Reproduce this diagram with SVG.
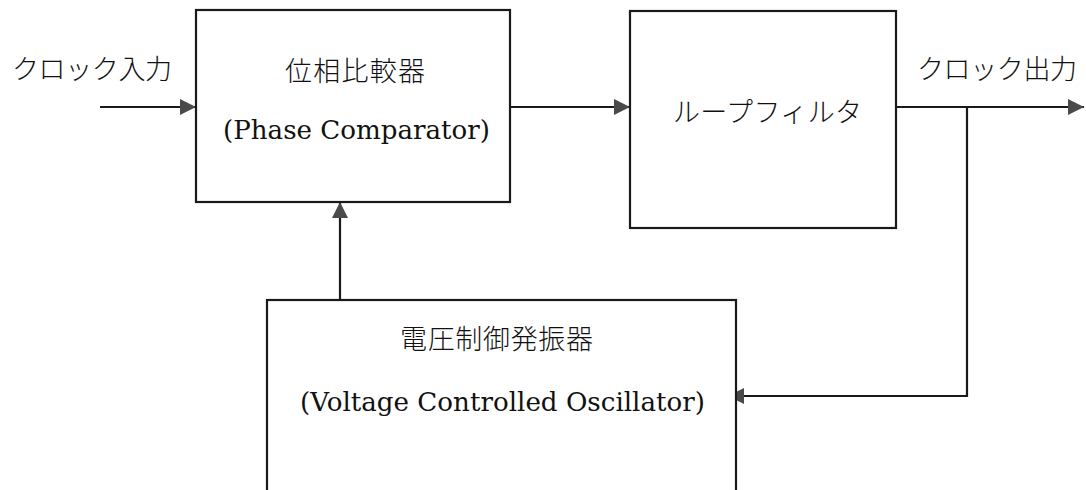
<svg xmlns="http://www.w3.org/2000/svg" width="1086" height="490" viewBox="0 0 1086 490">
<style>
.box{fill:#fff;stroke:#1a1a1a;stroke-width:2.2}
.ln{fill:none;stroke:#1a1a1a;stroke-width:2.2}
.jp{font-family:"Noto Sans CJK JP",sans-serif;font-size:27px;fill:#111;font-weight:300}
.en{font-family:"DejaVu Serif",serif;font-size:26px;fill:#111}
</style>
<defs>
<marker id="ah" viewBox="0 0 16 16" refX="16" refY="8" markerWidth="16" markerHeight="16" markerUnits="userSpaceOnUse" orient="auto">
<path d="M0,0 L16,8 L0,16 Z" fill="#4a4a4a"/>
</marker>
</defs>
<rect width="1086" height="490" fill="#fff"/>
<g id="connectors">
<line class="ln" x1="100" y1="107" x2="196" y2="107" marker-end="url(#ah)"/>
<line class="ln" x1="510" y1="107" x2="630" y2="107" marker-end="url(#ah)"/>
<line class="ln" x1="896" y1="107" x2="1084" y2="107" marker-end="url(#ah)"/>
<polyline class="ln" points="967,107 967,396 728,396" marker-end="url(#ah)"/>
<line class="ln" x1="340" y1="300" x2="340" y2="202" marker-end="url(#ah)"/>
</g>
<g id="label-in">
<text class="jp" x="12" y="79" textLength="160" lengthAdjust="spacing">クロック入力</text>
</g>
<g id="label-out">
<text class="jp" x="917" y="79" textLength="160" lengthAdjust="spacing">クロック出力</text>
</g>
<g id="phase-comparator">
<rect class="box" x="196" y="10" width="314" height="192"/>
<text class="jp" x="285" y="81" textLength="140" lengthAdjust="spacing">位相比較器</text>
<text class="en" x="223" y="139" textLength="267" lengthAdjust="spacingAndGlyphs">(Phase Comparator)</text>
</g>
<g id="loop-filter">
<rect class="box" x="630" y="11" width="266" height="217"/>
<text class="jp" x="673" y="122" textLength="189" lengthAdjust="spacing">ループフィルタ</text>
</g>
<g id="vco">
<rect class="box" x="267" y="300" width="469" height="210"/>
<text class="jp" x="400" y="349" textLength="193" lengthAdjust="spacing">電圧制御発振器</text>
<text class="en" x="300" y="411" textLength="405" lengthAdjust="spacingAndGlyphs">(Voltage Controlled Oscillator)</text>
</g>
</svg>
